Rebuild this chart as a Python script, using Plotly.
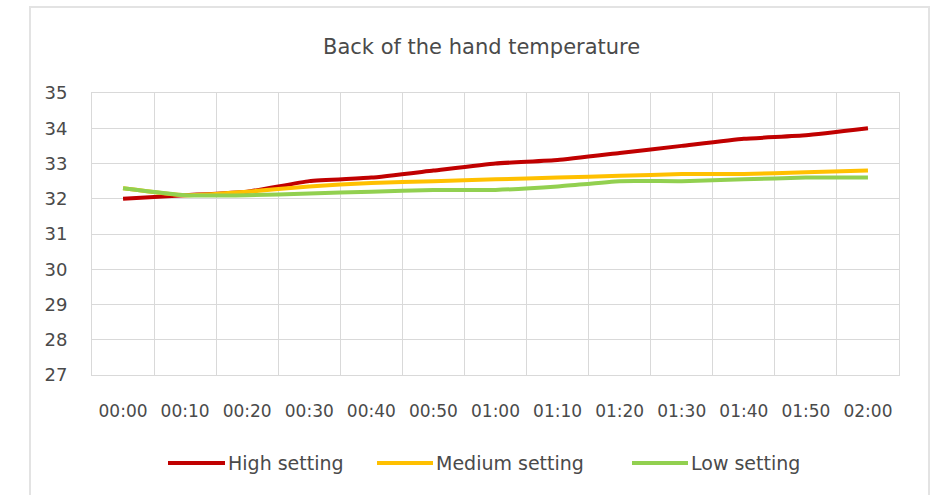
import plotly.graph_objects as go

times = ["00:00", "00:10", "00:20", "00:30", "00:40", "00:50", "01:00",
         "01:10", "01:20", "01:30", "01:40", "01:50", "02:00"]
high = [32.0, 32.1, 32.2, 32.5, 32.6, 32.8, 33.0, 33.1, 33.3, 33.5, 33.7, 33.8, 34.0]
medium = [32.3, 32.1, 32.2, 32.35, 32.45, 32.5, 32.55, 32.6, 32.65, 32.7, 32.7, 32.75, 32.8]
low = [32.3, 32.1, 32.1, 32.15, 32.2, 32.25, 32.25, 32.35, 32.5, 32.5, 32.55, 32.6, 32.6]

series_names = ["High setting", "Medium setting", "Low setting"]
series_values = [high, medium, low]
series_colors = ["#C00000", "#FFC000", "#92D050"]
title_text = "Back of the hand temperature"

FONT = "DejaVu Sans"
GRAY = "#4A4A4A"
GRID = "#D9D9D9"

W, H = 944, 495
ML, MR, MT, MB = 92, 45, 93, 120
PW, PH = W - ML - MR, H - MT - MB


def px_x(px):
    return (px - ML) / PW


def px_y(py):
    return (H - MB - py) / PH


fig = go.Figure()
for name, vals, col in zip(series_names, series_values, series_colors):
    fig.add_trace(go.Scatter(
        x=times, y=vals, name=name, mode="lines",
        line=dict(color=col, width=4, shape="spline", smoothing=0.4),
        showlegend=False,
    ))

shapes = []
annotations = []
# outer chart border
shapes.append(dict(type="rect", xref="paper", yref="paper",
                   x0=px_x(30), x1=px_x(929), y0=px_y(510), y1=px_y(7),
                   line=dict(color="#E3E3E3", width=2), fillcolor="rgba(0,0,0,0)",
                   layer="below"))

# custom legend
legend_items = [(168, 225), (377, 433), (632, 688)]
for (x0, x1), name, col in zip(legend_items, series_names, series_colors):
    shapes.append(dict(type="line", xref="paper", yref="paper",
                       x0=px_x(x0), x1=px_x(x1), y0=px_y(463), y1=px_y(463),
                       line=dict(color=col, width=4)))
    annotations.append(dict(xref="paper", yref="paper", x=px_x(x1 + 1), y=px_y(463),
                            text=name, showarrow=False, xanchor="left", yanchor="middle",
                            font=dict(family=FONT, size=19, color=GRAY)))

# title
annotations.append(dict(xref="paper", yref="paper", x=px_x(481), y=px_y(47),
                        text=title_text, showarrow=False, xanchor="center", yanchor="middle",
                        font=dict(family=FONT, size=21, color=GRAY)))

fig.update_layout(
    width=W, height=H,
    margin=dict(l=ML, r=MR, t=MT, b=MB, pad=0),
    paper_bgcolor="white", plot_bgcolor="white",
    shapes=shapes, annotations=annotations,
    showlegend=False,
    xaxis=dict(
        type="category", tickson="boundaries", range=[-0.5, 12.5],
        showgrid=True, gridcolor=GRID, gridwidth=1,
        showline=True, linecolor=GRID, linewidth=1, mirror=True,
        ticks="", ticklabelstandoff=21,
        tickfont=dict(family=FONT, size=17, color=GRAY),
        fixedrange=True,
    ),
    yaxis=dict(
        range=[27, 35], dtick=1, tick0=27,
        showgrid=True, gridcolor=GRID, gridwidth=1,
        zeroline=False,
        showline=True, linecolor=GRID, linewidth=1, mirror=True,
        ticks="", ticklabelstandoff=20,
        tickfont=dict(family=FONT, size=18, color=GRAY),
        fixedrange=True,
    ),
)

fig.write_html("out.html")
